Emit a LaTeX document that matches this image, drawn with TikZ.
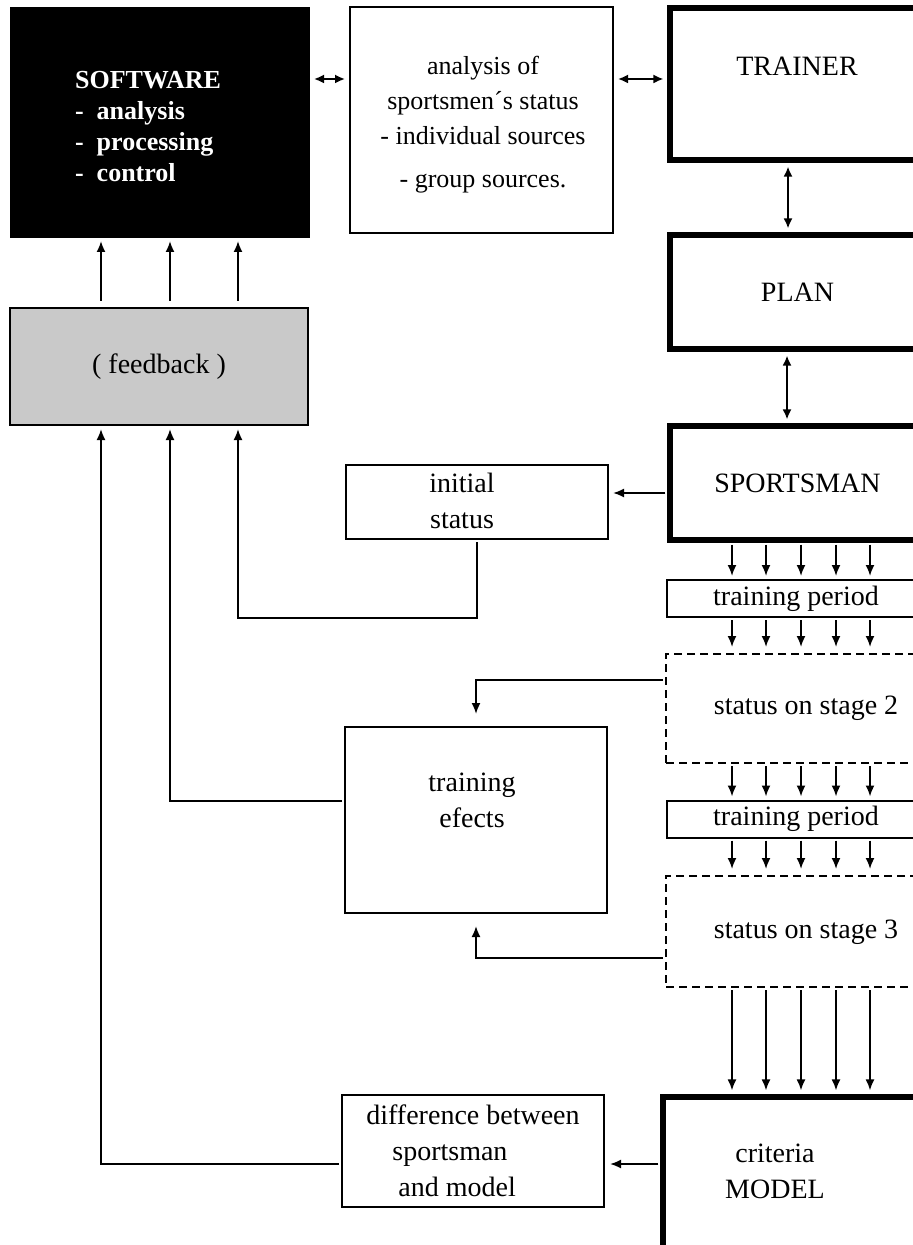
\documentclass[tikz,border=0pt]{standalone}
\usepackage{fontspec}
\setmainfont{Liberation Serif}
\usetikzlibrary{arrows.meta}

\tikzset{
    thinbox/.style={draw, line width=1pt, inner sep=2pt, minimum width=131pt},
    thickbox/.style={draw, line width=2.6pt, inner sep=2pt, minimum width=127.5pt},
    dashbox/.style={draw, line width=1pt, dash pattern=on 4pt off 2.5pt, minimum width=129.5pt},
    blackbox/.style={draw, fill=black, line width=1pt},
    greybox/.style={draw, fill=black!21, line width=1pt},
    arr/.style={-{Latex[length=5.5pt,width=4.5pt]}, line width=0.9pt, shorten <=1pt, shorten >=1.5pt},
    dblarr/.style={{Latex[length=5pt,width=4.5pt]}-{Latex[length=5pt,width=4.5pt]}, line width=0.9pt, shorten <=2pt, shorten >=2pt},
}

\begin{document}
\begin{tikzpicture}[x=0.5pt, y=-0.5pt, every node/.style={font=\fontsize{14}{18}\selectfont, align=center}]

            \useasboundingbox (0,0) rectangle (913,1245);
            \clip (0,0) rectangle (913,1245);

            \node (software) [blackbox, minimum width=149pt, minimum height=114.5pt] at (160,122.5) {};
            \node (softwaretext) [anchor=west, align=left, text=white, font=\fontsize{13}{15.5}\selectfont\bfseries] at (68,127) {SOFTWARE\\-\ \ analysis\\-\ \ processing\\-\ \ control};
            \node (analysis) [thinbox, minimum width=131.5pt, minimum height=113pt] at (481.5,120) {};
            \node (analysistext) [font=\fontsize{13}{17.5}\selectfont] at (483,125) {analysis of\\sportsmen´s status\\- individual sources\\[4pt]- group sources.};
            \node (trainer) [thickbox, minimum height=76pt] at (797.5,84) {};
            \node (trainertext) at (797,66) {TRAINER};
            \node (plan) [thickbox, minimum height=57pt] at (797.5,292) {PLAN};
            \node (sportsman) [thickbox, minimum height=57pt] at (797.5,483) {SPORTSMAN};

            \node (feedback) [greybox, minimum width=149pt, minimum height=58.5pt] at (159,366.5) {( feedback )};
            \node (initial) [thinbox, minimum height=37pt] at (477,502) {};
            \node (initialtext) at (462,501) {initial\\status};

            \node (tp1) [thinbox, minimum width=129pt, minimum height=18.5pt, inner sep=0pt] at (796,598.5) {training period};
            \node (stage2) [dashbox, minimum height=54.5pt] at (795.5,708.5) {};
            \node (stage2text) at (806,708) {status on stage 2};
            \node (tp2) [thinbox, minimum width=129pt, minimum height=18.5pt, inner sep=0pt] at (796,819) {training period};
            \node (stage3) [dashbox, minimum height=55.5pt] at (795.5,931.5) {};
            \node (stage3text) at (806,932) {status on stage 3};

            \node (efects) [thinbox, minimum height=93pt] at (476,820) {};
            \node (efectstext) at (472,800) {training\\efects};

            \node (model) [thickbox, minimum width=131pt, minimum height=76.5pt] at (794,1173.5) {};
            \node (modeltext) at (775,1171) {criteria\\MODEL};
            \node (difference) [thinbox, minimum height=56pt, inner sep=1pt, align=left] at (473,1151) {difference between\\\hspace{13pt}sportsman\\\hspace{16pt}and model};

            \draw [dblarr] (software.east |- 0,79) -- (analysis.west |- 0,79);
            \draw [dblarr] (analysis.east |- 0,79) -- (trainer.west |- 0,79);
            \draw [dblarr] (trainer.south -| 788,0) -- (plan.north -| 788,0);
            \draw [dblarr] (plan.south -| 787,0) -- (sportsman.north -| 787,0);

            \foreach \f in {101,170,238}
                \draw [arr, shorten <=3pt] (\f,0 |- feedback.north) -- (\f,0 |- software.south);

            \draw [arr, shorten >=2pt] (sportsman.west |- 0,493) -- (initial.east |- 0,493);
            \draw [arr] (initial.south) -- ++(0,78) -| (238,0 |- feedback.south);
            \draw [arr] (efects.west |- 0,801) -| (170,0 |- feedback.south);
            \draw [arr] (difference.west |- 0,1164) -| (101,0 |- feedback.south);
            \draw [arr, shorten >=2.5pt] (model.west |- 0,1164) -- (difference.east |- 0,1164);

            \draw [arr, shorten >=6pt] (stage2.west |- 0,680) -| (efects.north);
            \draw [arr, shorten >=6pt] (stage3.west |- 0,958) -| (efects.south);

            \foreach \x in {732,766,801,836,870} {
                \draw [arr] (\x,0 |- sportsman.south) -- (\x,0 |- tp1.north);
                \draw [arr, shorten >=3pt] (\x,0 |- tp1.south) -- (\x,0 |- stage2.north);
                \draw [arr] (\x,0 |- stage2.south) -- (\x,0 |- tp2.north);
                \draw [arr, shorten >=3pt] (\x,0 |- tp2.south) -- (\x,0 |- stage3.north);
                \draw [arr, shorten >=2pt] (\x,0 |- stage3.south) -- (\x,0 |- model.north);
            }

        \end{tikzpicture}
\end{document}
